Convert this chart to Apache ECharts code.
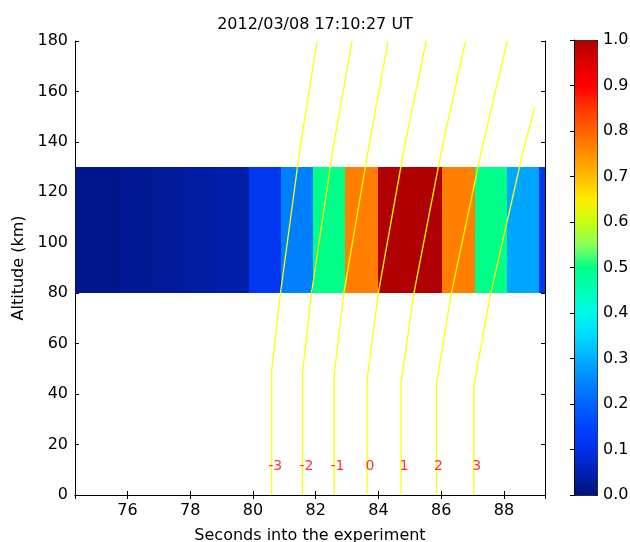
<!DOCTYPE html>
<html>
<head>
<meta charset="utf-8">
<script src="https://cdn.jsdelivr.net/npm/echarts@6/dist/echarts.min.js"></script>
<style>
  html, body { margin: 0; padding: 0; background: #fff; }
  #chart { width: 630px; height: 542px; }
</style>
</head>
<body>
<div id="chart"></div>
<script>
// ---- data -------------------------------------------------------------
const titleText = '2012/03/08 17:10:27 UT';
const timeRange = [74.33, 89.31];          // seconds shown on the x axis
const altitudeRange = [0, 180];            // km
const layerBottom = 80;                    // km, lower edge of the sampled layer
const layerTop = 130;                      // km, upper edge of the sampled layer

// edges (s) of the time strips and the normalised value inside each strip
const stripEdges = [74.33, 75.748, 76.782, 77.79, 78.823, 79.863, 80.896, 81.904,
                    82.947, 83.991, 85.02, 86.042, 87.072, 88.093, 89.114, 89.31];
const stripValues = [0.014, 0.02, 0.028, 0.037, 0.045, 0.12, 0.24, 0.5,
                     0.77, 1.0, 1.0, 0.77, 0.5, 0.29, 0.12];

// ray paths: [time (s), altitude (km)]
const trajectories = [
  [[80.597, 0], [80.597, 48.9], [80.874, 79.6], [81.49, 136.4], [82.045, 180]],
  [[81.576, 0], [81.576, 47.9], [81.863, 79.6], [82.542, 136.4], [83.161, 180]],
  [[82.587, 0], [82.587, 47.2], [82.893, 79.6], [83.672, 136.4], [84.309, 180]],
  [[83.64, 0],  [83.64, 45.9],  [83.991, 79.6], [84.807, 136.4], [85.522, 180]],
  [[84.724, 0], [84.724, 44.5], [85.126, 79.6], [86.01, 136.4],  [86.775, 180]],
  [[85.85, 0],  [85.85, 43.9],  [86.319, 79.6], [87.286, 136.4], [88.105, 180]],
  [[87.04, 0],  [87.04, 43.2],  [87.573, 79.6], [88.616, 136.4], [88.986, 153.8]]
];
const trajectoryLabels = ['-3', '-2', '-1', '0', '1', '2', '3'];
const labelTimes = [80.71, 81.71, 82.698, 83.73, 84.82, 85.914, 87.135];
const labelAltitude = 11.2;

const colorbarTicks = ['0.0', '0.1', '0.2', '0.3', '0.4', '0.5', '0.6', '0.7', '0.8', '0.9', '1.0'];

// ---- colour scale (blue -> cyan -> green -> yellow -> red -> dark red) --
const colorScale = [
  '#00127c', '#0020b0', '#0030e8', '#0042ff', '#0062ff', '#0086ff', '#00aeff',
  '#00d8ff', '#00f8e8', '#00ffb8', '#00ff88', '#88ff5c', '#c8ff10', '#ffec00',
  '#ffbc00', '#ff9000', '#ff6400', '#ff3800', '#ff0000', '#e00000', '#b00000'
];

// ---- chart ------------------------------------------------------------
const FONT = 'DejaVu Sans';
const txt = { fontFamily: FONT, fontSize: 16, color: '#000' };
const frameLine = { show: true, lineStyle: { color: '#000', width: 1 } };
const innerTick = { show: true, inside: true, length: 4, lineStyle: { color: '#000', width: 1 } };

const stripData = stripValues.map((v, i) => [stripEdges[i], stripEdges[i + 1], v]);

const timeAxisBase = {
  type: 'value', gridIndex: 0, min: timeRange[0], max: timeRange[1],
  minInterval: 2, maxInterval: 2,
  axisLine: frameLine, axisTick: innerTick, splitLine: { show: false }
};
const evenSecond = v => {
  const r = Math.round(v);
  return (Math.abs(v - r) < 1e-6 && r % 2 === 0) ? String(r) : '';
};

const chart = echarts.init(document.getElementById('chart'), null, { renderer: 'canvas' });
chart.setOption({
  animation: false,
  backgroundColor: '#fff',
  title: {
    text: titleText, left: 310, top: 12, textAlign: 'center',
    textStyle: Object.assign({}, txt, { fontWeight: 'normal' })
  },
  grid: [
    { left: 75, top: 41, width: 470, height: 454, show: false, outerBoundsMode: 'none', containLabel: false },
    { left: 574, top: 40, width: 23, height: 455, show: false, outerBoundsMode: 'none', containLabel: false }
  ],
  xAxis: [
    Object.assign({}, timeAxisBase, {
      position: 'bottom',
      axisLabel: Object.assign({}, txt, { margin: 8, formatter: evenSecond, showMinLabel: true, showMaxLabel: true }),
      name: 'Seconds into the experiment', nameLocation: 'middle', nameGap: 33,
      nameTextStyle: txt
    }),
    Object.assign({}, timeAxisBase, { position: 'top', axisLabel: { show: false } }),
    { type: 'value', gridIndex: 1, min: 0, max: 1, show: false }
  ],
  yAxis: [
    {
      type: 'value', gridIndex: 0, position: 'left', min: altitudeRange[0], max: altitudeRange[1], interval: 20,
      axisLine: frameLine, axisTick: innerTick, splitLine: { show: false },
      axisLabel: Object.assign({}, txt, { margin: 7 }),
      name: 'Altitude (km)', nameLocation: 'middle', nameGap: 45, nameRotate: 90,
      nameTextStyle: txt
    },
    {
      type: 'value', gridIndex: 0, position: 'right', min: altitudeRange[0], max: altitudeRange[1], interval: 20,
      axisLine: frameLine, axisTick: innerTick, splitLine: { show: false }, axisLabel: { show: false }
    },
    {
      type: 'value', gridIndex: 1, position: 'right', min: 0, max: 1, interval: 0.1, z: 10,
      axisLine: frameLine, axisTick: innerTick, splitLine: { show: false },
      axisLabel: Object.assign({}, txt, { margin: 6, formatter: v => colorbarTicks[Math.round(v * 10)] })
    }
  ],
  visualMap: {
    type: 'continuous', seriesIndex: 0, dimension: 2, min: 0, max: 1,
    calculable: false, hoverLink: false, realtime: false,
    left: 574, top: 40, itemWidth: 23, itemHeight: 455, padding: 0,
    borderColor: '#000', borderWidth: 1,
    inRange: { color: colorScale }
  },
  series: [
    {
      type: 'custom', xAxisIndex: 0, yAxisIndex: 0, z: 1,
      encode: { x: [0, 1] },
      data: stripData,
      renderItem: (params, api) => {
        const a = api.coord([api.value(0), layerTop]);
        const b = api.coord([api.value(1), layerBottom]);
        const x0 = Math.round(a[0]), x1 = Math.round(b[0]);
        const y0 = Math.round(a[1]), y1 = Math.round(b[1]);
        return {
          type: 'rect',
          shape: { x: x0, y: y0, width: x1 - x0, height: y1 - y0 },
          style: { fill: api.visual('color') }
        };
      }
    },
    ...trajectories.map(t => ({
      type: 'line', xAxisIndex: 0, yAxisIndex: 0, z: 3,
      data: t, showSymbol: false, symbol: 'none', smooth: false,
      lineStyle: { color: '#ffff00', width: 1.3 }
    })),
    {
      type: 'scatter', xAxisIndex: 0, yAxisIndex: 0, z: 4,
      symbolSize: 1, itemStyle: { color: 'rgba(0,0,0,0)' },
      data: labelTimes.map((x, i) => [x, labelAltitude, trajectoryLabels[i]]),
      label: {
        show: true, position: 'inside', formatter: p => p.data[2],
        fontFamily: FONT, fontSize: 14, color: '#ff0000'
      }
    }
  ]
});
</script>
</body>
</html>
